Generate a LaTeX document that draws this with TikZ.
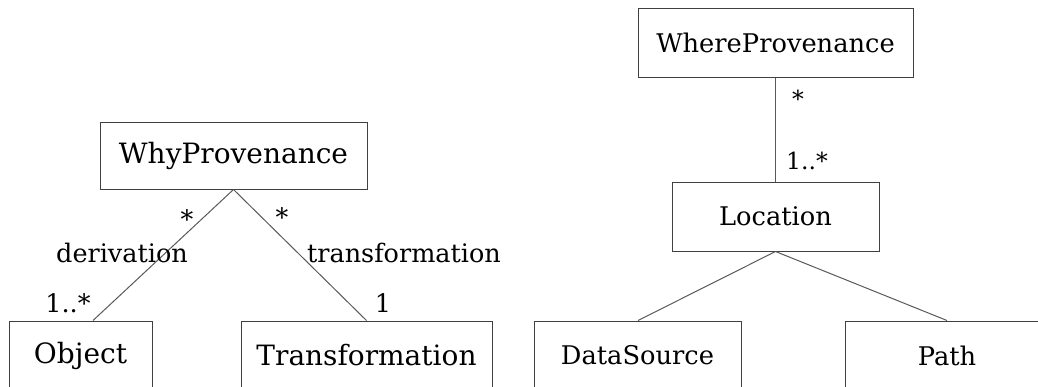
\documentclass[tikz,border=0pt]{standalone}
\usepackage{fontspec}
\setmainfont{DejaVu Serif}
\begin{document}
\begin{tikzpicture}[x=1pt,y=-1pt,
  cls/.style={draw=black!75,line width=1pt,inner sep=0pt,font=\fontsize{28}{32}\selectfont},
  rcls/.style={cls,font=\fontsize{25.7}{30}\selectfont},
  lbl/.style={inner sep=0pt,font=\fontsize{25.5}{30}\selectfont},
  rlbl/.style={inner sep=0pt,font=\fontsize{23.5}{28}\selectfont},
  conn/.style={draw=black!65,line width=1pt}]
\useasboundingbox (0,0) rectangle (1038,386);
\clip (0,0) rectangle (1038,386);
\node[cls,minimum width=267pt,minimum height=67pt] (why) at (233.5,155.5) {WhyProvenance};
\node[cls,minimum width=143pt,minimum height=69pt] (obj) at (80.5,355.5) {Object};
\node[cls,minimum width=251pt,minimum height=69pt] (trans) at (366.5,355.5) {Transformation};
\node[rcls,minimum width=275pt,minimum height=69pt] (where) at (775.5,42.5) {WhereProvenance};
\node[rcls,minimum width=207pt,minimum height=69pt] (loc) at (775.5,216.5) {Location};
\node[rcls,minimum width=207pt,minimum height=69pt] (ds) at (637.5,355.5) {DataSource};
\node[rcls,minimum width=204pt,minimum height=69pt] (path) at (947,355.5) {Path};
\draw[conn] (why.south) -- ([xshift=12.5pt]obj.north);
\draw[conn] (why.south) -- (trans.north);
\draw[conn] (where.south) -- (loc.north);
\draw[conn] (loc.south) -- ([xshift=0.5pt]ds.north);
\draw[conn] (loc.south) -- (path.north);
\node[lbl] (m1) at (187,219) {*};
\node[lbl] (d) at (122,253) {derivation};
\node[lbl] (m2) at (68,303) {1..*};
\node[lbl] (m3) at (282,217) {*};
\node[lbl] (t) at (404,253) {transformation};
\node[lbl] (m4) at (383,303) {1};
\node[rlbl] (m5) at (798,99) {*};
\node[rlbl] (m6) at (807,161) {1..*};
\end{tikzpicture}
\end{document}
